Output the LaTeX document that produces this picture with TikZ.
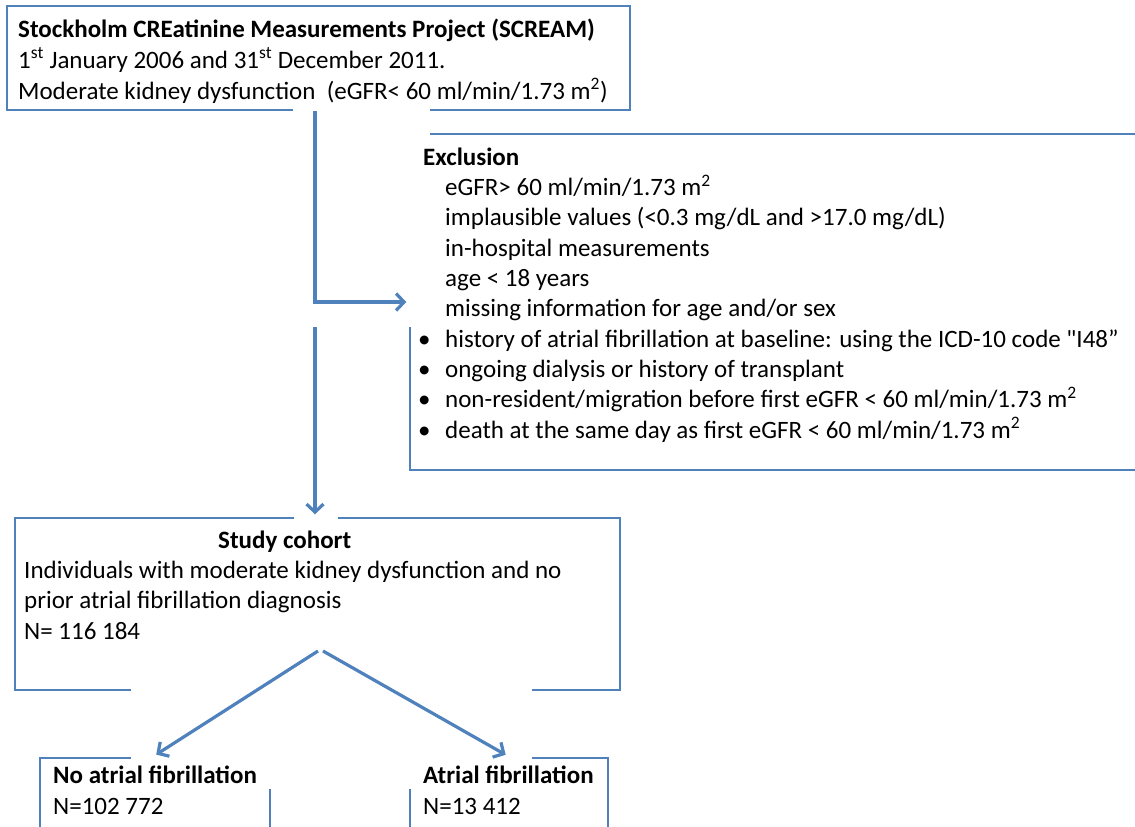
\documentclass[tikz,border=0pt]{standalone}
\usepackage{fontspec}
\newfontfamily\carlito{Carlito}
\usetikzlibrary{arrows.meta}
\definecolor{ofblue}{HTML}{4F81BD}
\begin{document}
\begin{tikzpicture}[x=1pt,y=-1pt,
  box/.style={draw=ofblue, line width=1.5pt, inner sep=0pt},
  patch/.style={fill=white, draw=none},
  txt/.style={anchor=base west, inner sep=0pt, align=left, font=\carlito\fontsize{25}{30.3}\selectfont},
  arr/.style={draw=ofblue, line width=3.2pt, -{Straight Barb[length=8pt,width=17pt]}}]
\clip (0,0) rectangle (1135,827);
\fill[white] (0,0) rectangle (1135,827);
% box borders
\node[box, minimum width=623pt, minimum height=104pt] (top) at (318.5,58) {};
\node[box, minimum width=735pt, minimum height=336pt] (excl) at (777.5,302) {};
\node[box, minimum width=605pt, minimum height=172pt] (cohort) at (317.5,604) {};
\node[box, minimum width=230pt, minimum height=82pt] (noaf) at (155,799) {};
\node[box, minimum width=198pt, minimum height=82pt] (af) at (509,799) {};
% white patches
\fill[patch] (293,103) rectangle (430,327);
\fill[patch] (294,508) rectangle (338,547);
\fill[patch] (131,686) rectangle (532,789);
% texts (anchor = baseline of last line)
\node[txt, font=\carlito\fontsize{25}{31}\selectfont] (toptxt) at (18,99) {\textbf{Stockholm CREatinine Measurements Project (SCREAM)}\\
1\textsuperscript{st} January 2006 and 31\textsuperscript{st} December 2011.\\
Moderate kidney dysfunction\ \ (eGFR< 60 ml/min/1.73 m\textsuperscript{2})};
\node[txt] (excltxt) at (418,438) {\hspace*{5pt}\textbf{Exclusion}\\
\hspace*{27pt}eGFR> 60 ml/min/1.73 m\textsuperscript{2}\\
\hspace*{27pt}implausible values (<0.3 mg/dL and >17.0 mg/dL)\\
\hspace*{27pt}in-hospital measurements\\
\hspace*{27pt}age < 18 years\\
\hspace*{27pt}missing information for age and/or sex\\
\makebox[27pt][l]{•}history of atrial fibrillation at baseline: using the ICD-10 code "I48”\\
\makebox[27pt][l]{•}ongoing dialysis or history of transplant\\
\makebox[27pt][l]{•}non-resident/migration before first eGFR < 60 ml/min/1.73 m\textsuperscript{2}\\
\makebox[27pt][l]{•}death at the same day as first eGFR < 60 ml/min/1.73 m\textsuperscript{2}};
\node[txt] (cohorttitle) at (218,548) {\textbf{Study cohort}};
\node[txt] (cohorttxt) at (24,639) {Individuals with moderate kidney dysfunction and no\\
prior atrial fibrillation diagnosis\\
N= 116 184};
\node[txt] (noaftxt) at (53,814) {\textbf{No atrial fibrillation}\\N=102 772};
\node[txt] (aftxt) at (423,814) {\textbf{Atrial fibrillation}\\N=13 412};
% connectors
\coordinate (split) at (315,327);
\coordinate (brl) at (318,651);
\coordinate (brr) at (323,651);
\draw[arr, shorten >=3pt] ([xshift=-3.5pt]top.south) |- (excl.west);
\draw[arr, shorten >=3pt] (split) -- ([xshift=-2.5pt]cohort.north);
\draw[arr, shorten >=5pt] (brl) -- ([xshift=-3pt]noaf.north);
\draw[arr, shorten >=5pt] (brr) -- ([xshift=1pt]af.north);
\end{tikzpicture}
\end{document}
